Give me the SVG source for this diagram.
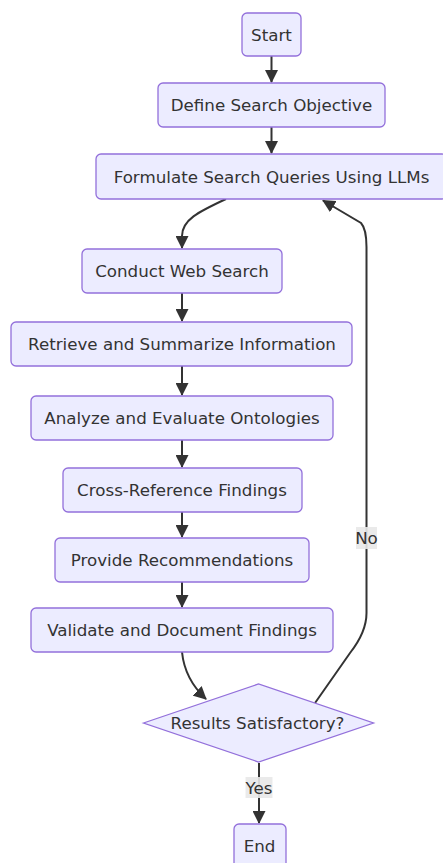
<svg xmlns="http://www.w3.org/2000/svg" width="443" height="863" viewBox="0 0 443 863">
<defs>
<style>
.node rect,.node polygon{fill:#ECECFF;stroke:#9370DB;stroke-width:1.3}
.node text,.elabel text{font-family:"DejaVu Sans","Verdana",sans-serif;font-size:16.7px;fill:#333;text-anchor:middle}
.edge{fill:none;stroke:#333;stroke-width:2;marker-end:url(#arrow)}
.elabel rect{fill:#e8e8e8;opacity:0.9}
</style>
<marker id="arrow" viewBox="0 0 13 13" refX="12" refY="6.5" markerWidth="13" markerHeight="13" markerUnits="userSpaceOnUse" orient="auto">
<path d="M0,0 L13,6.5 L0,13 z" fill="#333"/>
</marker>
</defs>
<rect width="443" height="863" fill="#ffffff"/>
<g id="edges">
<path class="edge" d="M271.5,56 L271.5,82"/>
<path class="edge" d="M271.5,127 L271.5,153"/>
<path class="edge" d="M226,199 C198,212 182,220 182,236 L182,248"/>
<path class="edge" d="M182,293 L182,321"/>
<path class="edge" d="M182,366 L182,395"/>
<path class="edge" d="M182,440 L182,467"/>
<path class="edge" d="M182,512 L182,537"/>
<path class="edge" d="M182,582 L182,607"/>
<path class="edge" d="M182,652 C184,672 192,686 206,699"/>
<path class="edge" d="M259,763 L259,823"/>
<path class="edge" d="M315,703 L350,653 Q366.5,632 366.5,613 L366.5,247 Q366.5,229 361,223 L323,200.5"/>
</g>
<g id="edge-labels">
<g class="elabel" id="label-no">
<rect x="356" y="527" width="21" height="22"/>
<text x="366.5" y="544">No</text>
</g>
<g class="elabel" id="label-yes">
<rect x="245.5" y="777" width="27" height="21"/>
<text x="259" y="793.5">Yes</text>
</g>
</g>
<g class="node" id="start">
<rect x="242" y="13" width="59" height="43" rx="5"/>
<text x="271.5" y="40.5">Start</text>
</g>
<g class="node" id="define">
<rect x="158" y="83" width="227" height="44" rx="5"/>
<text x="271.5" y="111">Define Search Objective</text>
</g>
<g class="node" id="formulate">
<rect x="96" y="154" width="351" height="45" rx="5"/>
<text x="271.5" y="182.5">Formulate Search Queries Using LLMs</text>
</g>
<g class="node" id="conduct">
<rect x="82" y="249" width="200" height="44" rx="5"/>
<text x="182" y="277">Conduct Web Search</text>
</g>
<g class="node" id="retrieve">
<rect x="11" y="322" width="341" height="44" rx="5"/>
<text x="182" y="350">Retrieve and Summarize Information</text>
</g>
<g class="node" id="analyze">
<rect x="31" y="396" width="302" height="44" rx="5"/>
<text x="182" y="424">Analyze and Evaluate Ontologies</text>
</g>
<g class="node" id="crossref">
<rect x="63" y="468" width="239" height="44" rx="5"/>
<text x="182" y="496">Cross-Reference Findings</text>
</g>
<g class="node" id="provide">
<rect x="55" y="538" width="254" height="44" rx="5"/>
<text x="182" y="566">Provide Recommendations</text>
</g>
<g class="node" id="validate">
<rect x="31" y="608" width="302" height="44" rx="5"/>
<text x="182" y="636">Validate and Document Findings</text>
</g>
<g class="node" id="decision">
<polygon points="143.5,723 258.5,684 373.5,723 258.5,762"/>
<text x="257.5" y="729">Results Satisfactory?</text>
</g>
<g class="node" id="end">
<rect x="234" y="824" width="52" height="44" rx="5"/>
<text x="259.5" y="852">End</text>
</g>
</svg>
